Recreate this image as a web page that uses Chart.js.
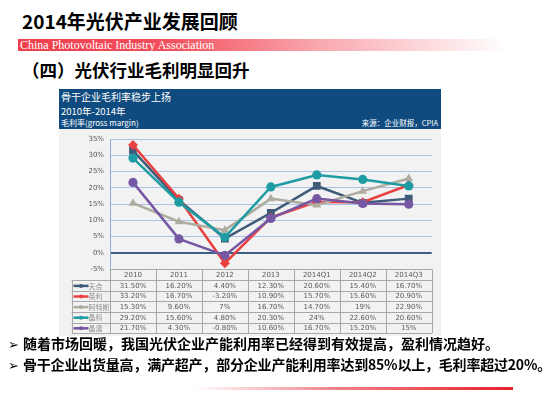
<!DOCTYPE html>
<html>
<head>
<meta charset="utf-8">
<script src="https://cdn.jsdelivr.net/npm/chart.js@4/dist/chart.umd.min.js"></script>
<style>
  body { margin: 0; background: #fff; }
  #page { position: relative; width: 550px; height: 398px; overflow: hidden; font-family: "Noto Sans CJK SC", sans-serif; }
  .abs { position: absolute; white-space: nowrap; }
  #title { left: 22px; top: 10px; font-size: 19px; font-weight: 700; line-height: 21px; color: #000; }
  #banner { left: 18px; top: 39px; width: 490px; height: 12px;
    background: linear-gradient(90deg, #f03e4c 0%, #f24e5b 30%, #f9a9b0 62%, #fff 100%); }
  #banner span { position: absolute; left: 2px; top: 0; font-family: "Liberation Serif", serif; font-size: 12px; line-height: 12px; color: #fff; }
  #subtitle { left: 22px; top: 59px; font-size: 17.5px; font-weight: 700; line-height: 22px; color: #000; }
  #head { left: 59px; top: 89px; width: 382px; height: 40px; background: #0f4b7f; color: #fff; }
  #head div { position: absolute; left: 2px; white-space: nowrap; }
  #panel { left: 59px; top: 129px; width: 382px; height: 207px; background: #f2f2f2; }
  .bullet { left: 8px; font-size: 14px; font-weight: 700; line-height: 18px; color: #000; }
  .bullet b { font-family: "DejaVu Sans", sans-serif; font-size: 13px; display: inline-block; width: 15px; }
  #rule { left: 193px; top: 387px; width: 320px; height: 3px; background: linear-gradient(90deg, #fff 0%, #f08088 45%, #e8202c 100%); }
</style>
</head>
<body>
<div id="page">
  <div id="title" class="abs">2014年光伏产业发展回顾</div>
  <div id="banner" class="abs"><span>China Photovoltaic Industry Association</span></div>
  <div id="subtitle" class="abs">（四）光伏行业毛利明显回升</div>
  <div id="head" class="abs">
    <div style="top:1px;font-size:10px;line-height:14px;">骨干企业毛利率稳步上扬</div>
    <div style="top:16px;font-size:9.5px;line-height:12px;">2010年-2014年</div>
    <div style="top:29px;font-size:8px;line-height:10px;">毛利率(gross margin)</div>
    <div style="top:29px;left:auto;right:3px;font-size:7.5px;line-height:10px;">来源：企业财报，CPIA</div>
  </div>
  <div id="panel" class="abs"><canvas id="myChart" width="382" height="207"></canvas></div>
  <div class="abs bullet" style="top:334px;"><b>&#10146;</b>随着市场回暖，我国光伏企业产能利用率已经得到有效提高，盈利情况趋好。</div>
  <div class="abs bullet" style="top:355px;letter-spacing:-0.2px;"><b>&#10146;</b>骨干企业出货量高，满产超产，部分企业产能利用率达到85%以上，毛利率超过20%。</div>
  <div id="rule" class="abs"></div>
</div>
<script>
// ============= data =====================
const categories = ["2010", "2011", "2012", "2013", "2014Q1", "2014Q2", "2014Q3"];
const companies = ["天合", "英利", "阿特斯", "晶科", "晶澳"];
const trina   = [31.5, 16.2, 4.4, 12.3, 20.6, 15.4, 16.7];
const yingli  = [33.2, 16.7, -3.2, 10.9, 15.7, 15.6, 20.9];
const csi     = [15.3, 9.6, 7, 16.7, 14.7, 19, 22.9];
const jinko   = [29.2, 15.6, 4.8, 20.3, 24, 22.6, 20.6];
const jaSolar = [21.7, 4.3, -0.8, 10.6, 16.7, 15.2, 15];
const yTicks  = [-5, 0, 5, 10, 15, 20, 25, 30, 35];

const series = [trina, yingli, csi, jinko, jaSolar];
const colors = ['#3e5b7a', '#e8413f', '#aeac9f', '#1e9ca3', '#7657a3'];
const shapes = ['rect', 'rectRot', 'triangle', 'circle', 'circle'];
const radii  = [5.5, 5, 5, 4.6, 4.6];

function fmt(v) {
    return (Number.isInteger(v) ? v : v.toFixed(2)) + '%';
}

// ============= data table under the plot =====================
const tablePlugin = {
    id: 'dataTable',
    afterDraw(chart) {
        const ctx = chart.ctx;
        const xs = chart.scales.x, ys = chart.scales.y;
        const top = Math.round(ys.getPixelForValue(-5)) + 0.5;
        const rowH = 10.6;
        const colW = (xs.right - xs.left) / categories.length;
        const labelLeft = xs.left - 38.5;
        const bottom = top + rowH * (companies.length + 1);
        ctx.save();
        ctx.strokeStyle = '#a8a8a8';
        ctx.lineWidth = 1;
        ctx.beginPath();
        ctx.moveTo(xs.left, top); ctx.lineTo(xs.right, top);
        for (let r = 1; r <= companies.length + 1; r++) {
            const yy = Math.round(top + rowH * r) + 0.5;
            ctx.moveTo(labelLeft, yy); ctx.lineTo(xs.right, yy);
        }
        ctx.moveTo(Math.round(labelLeft) + 0.5, Math.round(top + rowH)); ctx.lineTo(Math.round(labelLeft) + 0.5, bottom);
        for (let c = 0; c <= categories.length; c++) {
            const xx = Math.round(xs.left + colW * c) + 0.5;
            ctx.moveTo(xx, top); ctx.lineTo(xx, bottom);
        }
        ctx.stroke();

        ctx.font = '7px "DejaVu Sans"';
        ctx.textAlign = 'center';
        ctx.textBaseline = 'middle';
        ctx.fillStyle = '#595959';
        categories.forEach((c, i) => {
            ctx.fillText(c, xs.getPixelForValue(i), top + rowH / 2 + 0.5);
        });
        series.forEach((vals, r) => {
            const cy = top + rowH * (r + 1.5) + 0.5;
            vals.forEach((v, i) => {
                ctx.fillText(fmt(v), xs.getPixelForValue(i), cy);
            });
            // legend key
            const lx = labelLeft + 2;
            ctx.strokeStyle = colors[r];
            ctx.lineWidth = 2.5;
            ctx.beginPath();
            ctx.moveTo(lx, cy); ctx.lineTo(lx + 15, cy);
            ctx.stroke();
            ctx.fillStyle = colors[r];
            ctx.beginPath();
            ctx.arc(lx + 7.5, cy, 2, 0, Math.PI * 2);
            ctx.fill();
            ctx.fillStyle = '#8c8c8c';
            ctx.textAlign = 'left';
            ctx.font = '7px "Noto Sans CJK SC"';
            ctx.fillText(companies[r], lx + 15, cy);
            ctx.font = '7px "DejaVu Sans"';
            ctx.textAlign = 'center';
            ctx.fillStyle = '#595959';
        });
        ctx.restore();
    }
};

// ============ CHART =================
const ctx = document.querySelector('#myChart').getContext('2d');
const chart = new Chart(ctx, {
    type: 'line',
    data: {
        labels: categories,
        datasets: series.map((vals, i) => ({
            label: companies[i],
            data: vals,
            borderColor: colors[i],
            backgroundColor: colors[i],
            borderWidth: 2.5,
            pointStyle: shapes[i],
            pointRadius: radii[i],
            pointBorderWidth: 0,
            tension: 0,
            order: series.length - i
        }))
    },
    options: {
        responsive: false,
        devicePixelRatio: 1,
        animation: false,
        layout: { padding: { left: 0, right: 9.3, top: 8.7, bottom: 0 } },
        plugins: { legend: { display: false }, tooltip: { enabled: false } },
        scales: {
            x: {
                offset: true,
                grid: { display: false },
                border: { display: false },
                ticks: { display: false },
                afterFit(scale) { scale.height = 66.9; }
            },
            y: {
                min: -5,
                max: 35,
                afterBuildTicks(scale) { scale.ticks = yTicks.map(v => ({ value: v })); },
                afterFit(scale) { scale.width = 51; },
                ticks: {
                    padding: 6,
                    color: '#595959',
                    font: { family: 'DejaVu Sans', size: 7 },
                    callback: v => v + '%'
                },
                grid: {
                    drawTicks: false,
                    color: c => c.tick.value === 0 ? '#3d5f86' : (c.tick.value === -5 ? 'rgba(0,0,0,0)' : '#a9c3e8'),
                    lineWidth: c => c.tick.value === 0 ? 2 : 1
                },
                border: { color: '#8fb0dc', width: 1 }
            }
        }
    },
    plugins: [tablePlugin]
});
</script>
</body>
</html>
